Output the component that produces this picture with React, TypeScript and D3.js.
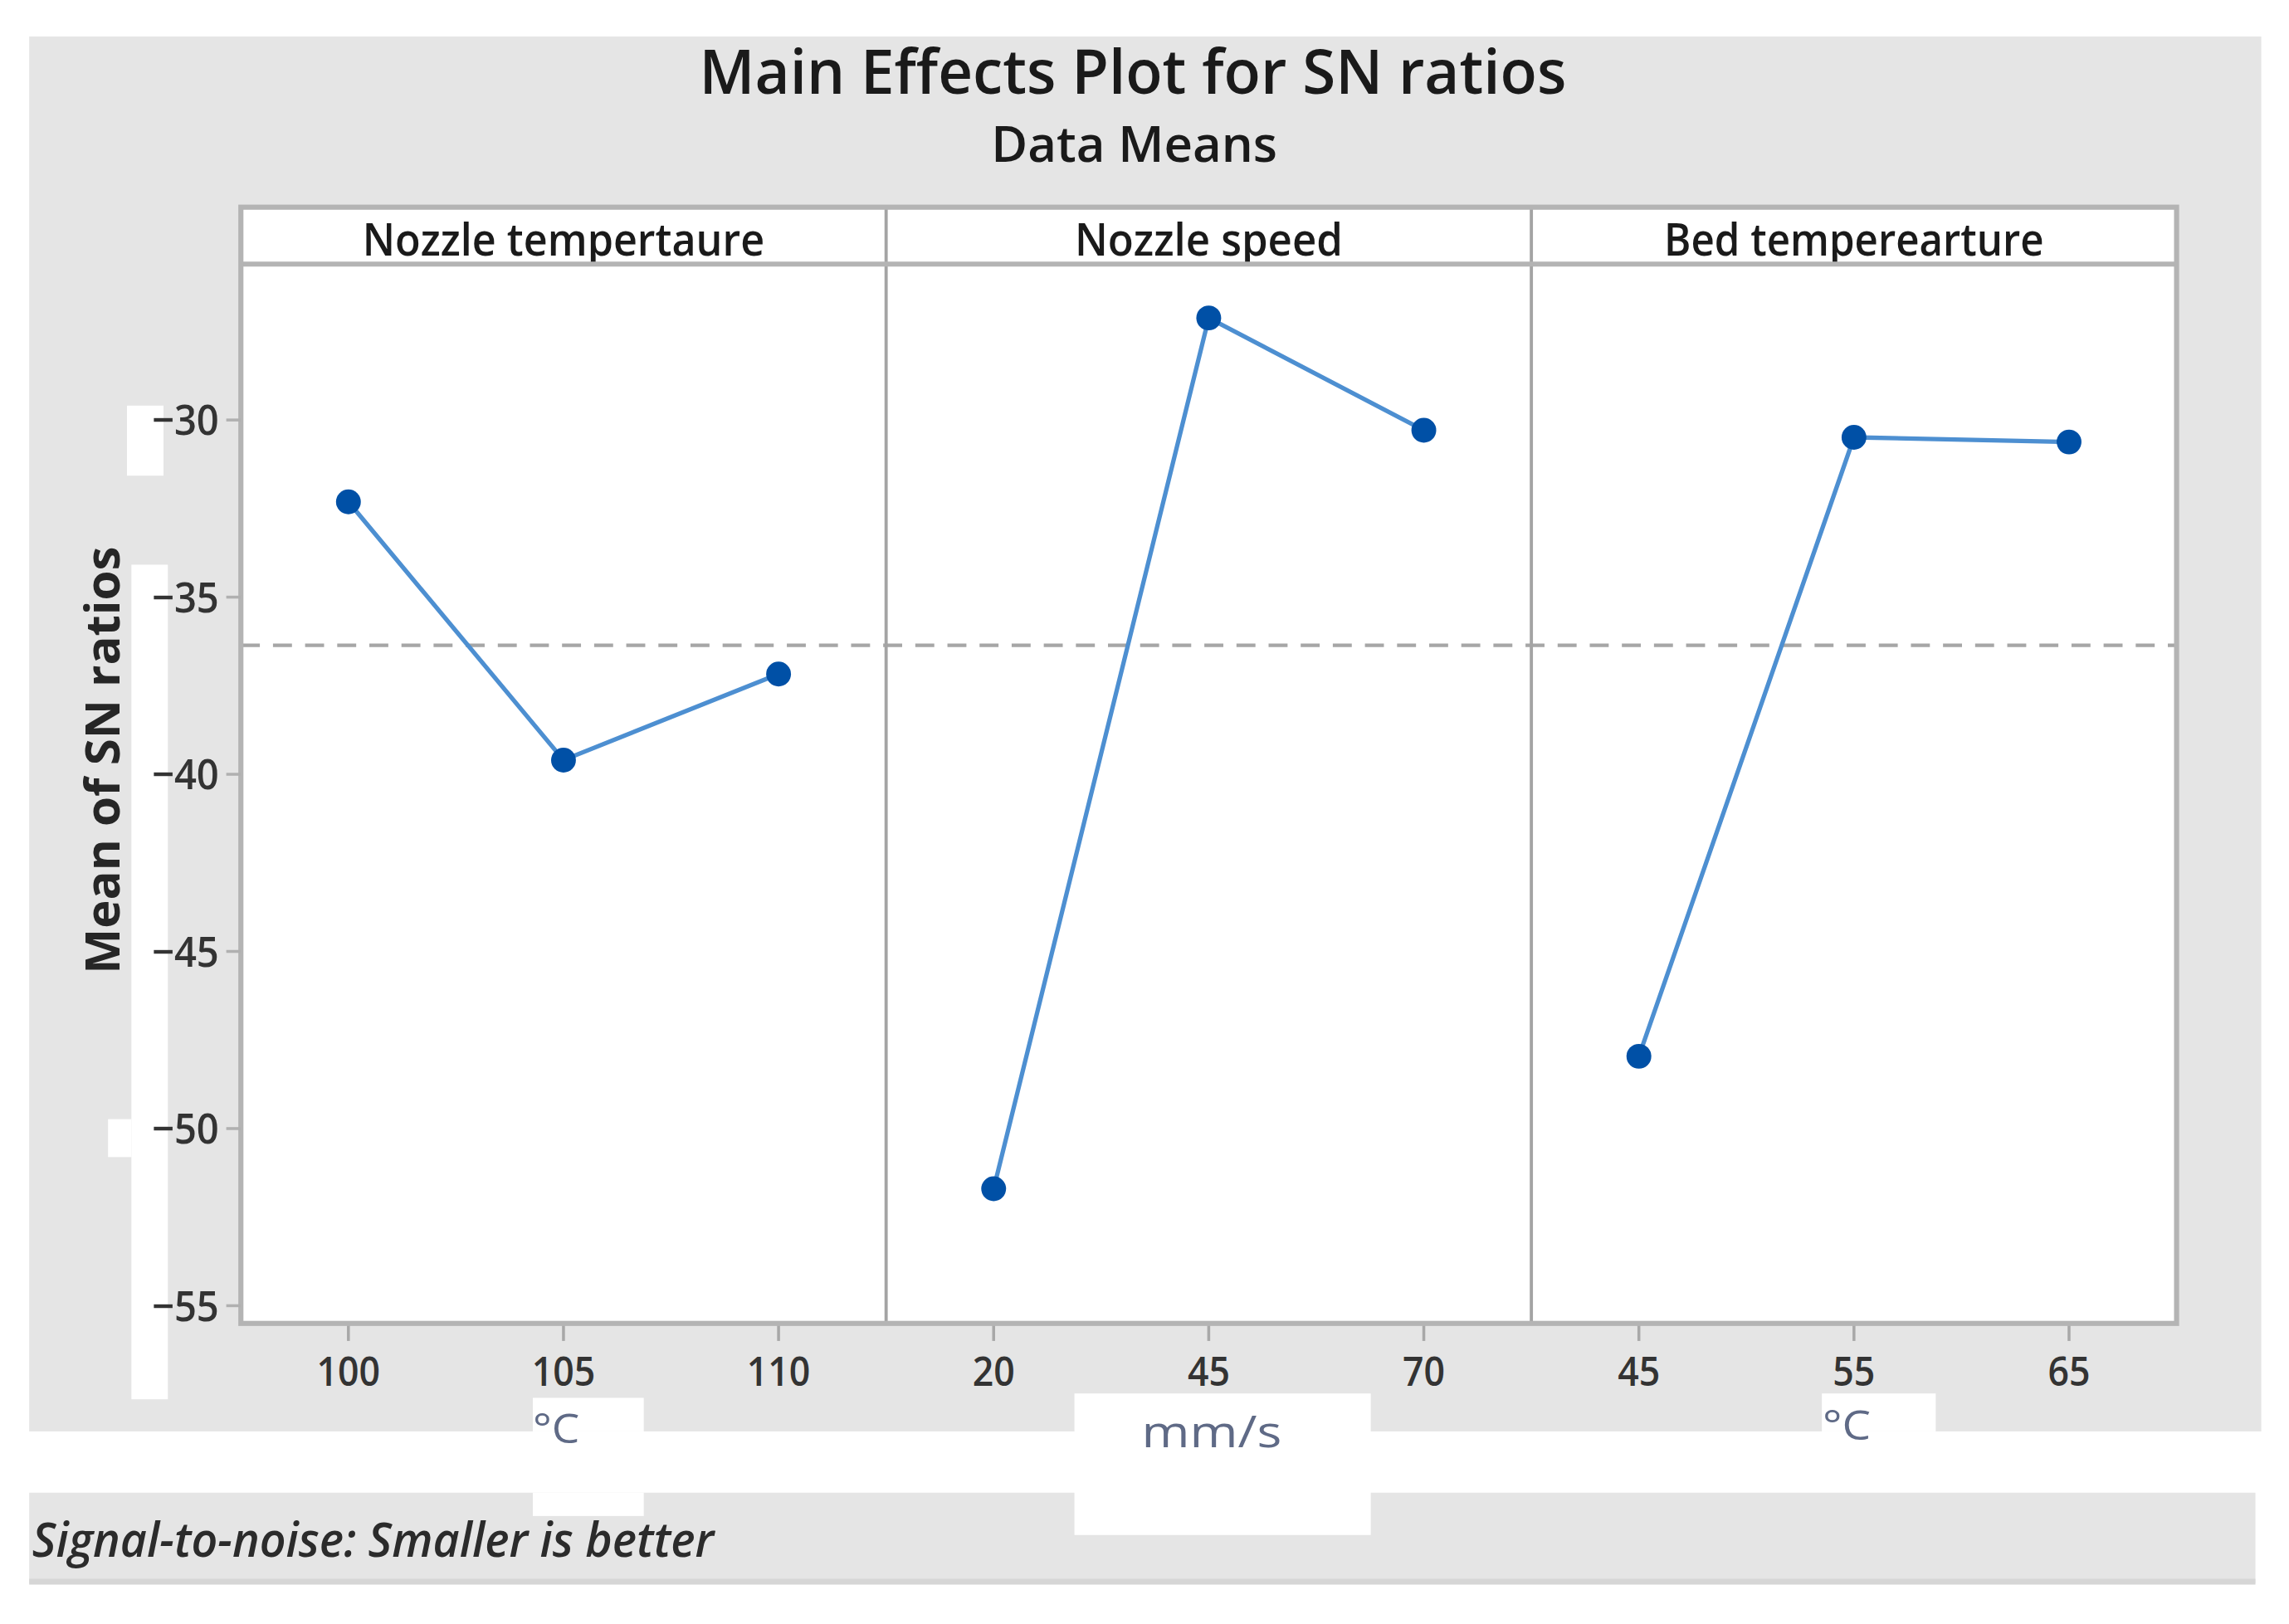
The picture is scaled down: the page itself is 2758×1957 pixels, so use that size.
import * as d3 from 'd3'

// factor levels and mean S/N ratios
const factors = ['Nozzle tempertaure', 'Nozzle speed', 'Bed temperearture']
const nozzleTempLevels = ['100', '105', '110']
const nozzleTempSN = [-32.31, -39.6, -37.17]
const nozzleSpeedLevels = ['20', '45', '70']
const nozzleSpeedSN = [-51.7, -27.12, -30.29]
const bedTempLevels = ['45', '55', '65']
const bedTempSN = [-47.96, -30.49, -30.62]
const units = ['°C', 'mm/s', '°C']
const yTicks = [-55, -50, -45, -40, -35, -30]

const W = 1568
const H = 1113
const plot = { left: 165, right: 1491, top: 142, strip: 181, bottom: 907 }
const font = '"Open Sans", "Noto Sans", sans-serif'

export default function App() {
  const panels = [
    { name: factors[0], levels: nozzleTempLevels, values: nozzleTempSN, unit: units[0] },
    { name: factors[1], levels: nozzleSpeedLevels, values: nozzleSpeedSN, unit: units[1] },
    { name: factors[2], levels: bedTempLevels, values: bedTempSN, unit: units[2] },
  ]
  const pw = (plot.right - plot.left) / panels.length
  const y = d3.scaleLinear().domain([-55.5, -25.6]).range([plot.bottom, plot.strip])
  const grand = d3.mean(panels.flatMap(p => p.values)) ?? 0
  const fmt = d3.format('d')
  const line = d3.line<[number, number]>().x(d => d[0]).y(d => d[1])

  // unit label placement (below the middle tick of each panel)
  const unitPos = [
    { dx: -5, y: 989, len: 32, size: 28 },
    { dx: 2, y: 992, len: 96, size: 30 },
    { dx: -5, y: 987, len: 33, size: 28 },
  ]

  return (
    <div style={{ position: 'fixed', left: 0, top: 0 }}>
      <svg width={2758} height={1957} viewBox={`0 0 ${W} ${H}`} preserveAspectRatio="none"
        style={{ display: 'block', background: '#fff', fontFamily: font }}>
        {/* background panels */}
        <rect x={20} y={25} width={1529} height={956} fill="#e5e5e5" />
        <rect x={20} y={1023} width={1525} height={62} fill="#e5e5e5" />
        <rect x={20} y={1082} width={1525} height={4} fill="#d6d6d6" />

        {/* white patches in the source image */}
        <rect x={87} y={278} width={25} height={48} fill="#fff" />
        <rect x={90} y={387} width={25} height={572} fill="#fff" />
        <rect x={74} y={767} width={16} height={26} fill="#fff" />
        <rect x={365} y={958} width={76} height={23} fill="#fff" />
        <rect x={365} y={1023} width={76} height={16} fill="#fff" />
        <rect x={736} y={955} width={203} height={97} fill="#fff" />
        <rect x={1248} y={955} width={78} height={26} fill="#fff" />

        <text x={776} y={64} textAnchor="middle" fontSize={42} fontWeight={600} fill="#1a1a1a"
          textLength={594} lengthAdjust="spacingAndGlyphs">Main Effects Plot for SN ratios</text>
        <text x={777} y={111} textAnchor="middle" fontSize={34} fontWeight={600} fill="#1a1a1a"
          textLength={196} lengthAdjust="spacingAndGlyphs">Data Means</text>

        <rect x={plot.left} y={plot.top} width={plot.right - plot.left} height={plot.bottom - plot.top} fill="#fff" />

        {/* mean line */}
        <line x1={plot.left} x2={plot.right} y1={y(grand)} y2={y(grand)}
          stroke="#a6a6a6" strokeWidth={2.4} strokeDasharray="13 9" />

        {panels.map((p, i) => {
          const x0 = plot.left + i * pw
          const x = d3.scalePoint().domain(p.levels).range([x0, x0 + pw]).padding(0.5)
          const pts: [number, number][] = p.levels.map((l, j) => [x(l) ?? 0, y(p.values[j])])
          const mid = x(p.levels[1]) ?? 0
          const u = unitPos[i]
          return (
            <g key={p.name}>
              <text x={x0 + pw / 2} y={175} textAnchor="middle" fontSize={31} fontWeight={600} fill="#1a1a1a"
                textLength={p.name.length * 15.3} lengthAdjust="spacingAndGlyphs">{p.name}</text>
              <path d={line(pts) ?? ''} fill="none" stroke="#4d8fd1" strokeWidth={3} />
              {pts.map((d, j) => (
                <circle key={j} cx={d[0]} cy={d[1]} r={8.5} fill="#0050a6" />
              ))}
              {p.levels.map(l => (
                <g key={l} transform={`translate(${x(l)},0)`}>
                  <line y1={plot.bottom} y2={plot.bottom + 12} stroke="#a8a8a8" strokeWidth={2} />
                  <text y={950} textAnchor="middle" fontSize={28} fontWeight={600} fill="#333"
                    textLength={l.length * 14.5} lengthAdjust="spacingAndGlyphs">{l}</text>
                </g>
              ))}
              <text x={mid + u.dx} y={u.y} textAnchor="middle" fontSize={u.size} fill="#5f6a86"
                textLength={u.len} lengthAdjust="spacingAndGlyphs">{p.unit}</text>
              {i > 0 && (
                <line x1={x0} x2={x0} y1={plot.top} y2={plot.bottom} stroke="#a4a4a4" strokeWidth={2.2} />
              )}
            </g>
          )
        })}

        {/* strip header line and frame */}
        <line x1={plot.left} x2={plot.right} y1={plot.strip} y2={plot.strip} stroke="#b4b4b4" strokeWidth={3.5} />
        <rect x={plot.left} y={plot.top} width={plot.right - plot.left} height={plot.bottom - plot.top}
          fill="none" stroke="#b4b4b4" strokeWidth={3.5} />

        {/* y axis */}
        {yTicks.map(t => (
          <g key={t} transform={`translate(0,${y(t)})`}>
            <line x1={plot.left - 10} x2={plot.left} stroke="#b0b0b0" strokeWidth={2} />
            <text x={150} dy="0.36em" textAnchor="end" fontSize={29} fontWeight={600} fill="#333"
              textLength={46} lengthAdjust="spacingAndGlyphs">{fmt(t)}</text>
          </g>
        ))}
        <text transform="translate(82,521) rotate(-90)" textAnchor="middle" fontSize={33}
          fontWeight="bold" fill="#262626" textLength={293} lengthAdjust="spacingAndGlyphs">Mean of SN ratios</text>

        <text x={22} y={1067} fontSize={33} fontStyle="italic" fontWeight={600} fill="#2b2b2b"
          textLength={467} lengthAdjust="spacingAndGlyphs">Signal-to-noise: Smaller is better</text>
      </svg>
    </div>
  )
}
